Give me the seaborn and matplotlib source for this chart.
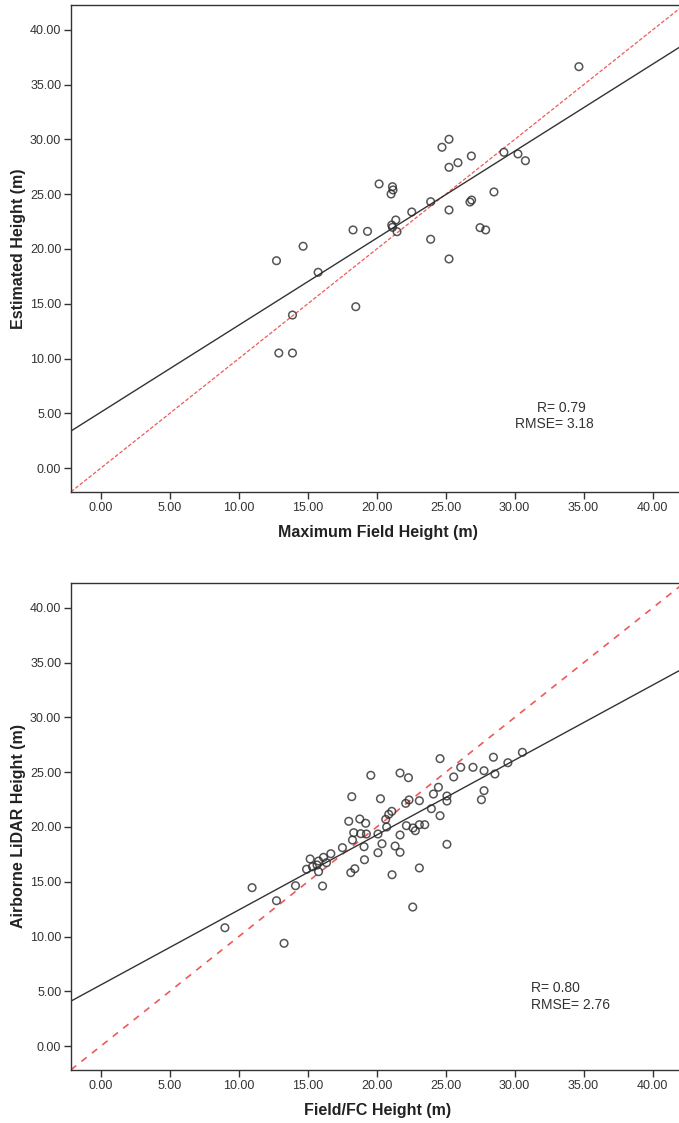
import matplotlib
matplotlib.use("Agg")
import matplotlib.pyplot as plt
import numpy as np
import pandas as pd
import seaborn as sns

# ---- data -------------------------------------------------------------
# Panel 1: maximum field height vs. estimated height (m)
field_max = [34.66, 25.24, 24.73, 26.86, 25.89, 25.24, 29.22, 30.24, 30.78,
             28.50, 26.88, 26.76, 23.91, 22.54, 25.24, 27.49, 27.90, 23.91,
             25.24, 20.17, 21.14, 21.18, 21.04, 18.28, 19.33, 21.38, 21.09,
             21.14, 21.47, 14.66, 12.73, 15.75, 18.48, 13.89, 12.90, 13.89]
estimated = [36.65, 30.02, 29.29, 28.49, 27.88, 27.46, 28.83, 28.68, 28.06,
             25.21, 24.47, 24.29, 24.32, 23.38, 23.56, 21.95, 21.74, 20.89,
             19.09, 25.94, 25.69, 25.39, 25.02, 21.74, 21.61, 22.65, 22.19,
             21.98, 21.58, 20.25, 18.93, 17.87, 14.73, 13.97, 10.50, 10.50]

# Panel 2: field/FC height vs. airborne LiDAR height (m)
field_fc = [24.59, 26.09, 25.58, 19.57, 21.69, 22.30, 18.19, 20.27, 22.34,
            22.10, 23.09, 24.47, 24.11, 25.09, 25.09, 23.96, 24.59, 21.09,
            20.87, 20.65, 17.97, 18.77, 19.20, 20.72, 22.15, 22.63, 22.80,
            23.09, 23.48, 20.09, 18.33, 18.84, 19.25, 21.69, 18.24, 19.08,
            17.51, 20.38, 21.33, 25.09, 16.67, 16.14, 15.78, 15.17, 16.36,
            15.67, 15.34, 14.91, 15.78, 19.11, 20.09, 21.69, 18.41, 18.12,
            21.11, 23.09, 14.11, 16.07, 22.61, 10.96, 12.73, 8.99, 13.28,
            30.56, 28.46, 29.51, 26.98, 27.78, 28.57, 27.78, 27.59]
lidar = [26.24, 25.45, 24.57, 24.72, 24.93, 24.50, 22.77, 22.58, 22.47,
         22.16, 22.40, 23.63, 23.01, 22.83, 22.37, 21.67, 21.03, 21.43,
         21.16, 20.70, 20.52, 20.73, 20.34, 20.00, 20.12, 19.91, 19.66,
         20.21, 20.21, 19.36, 19.48, 19.39, 19.36, 19.27, 18.81, 18.20,
         18.11, 18.47, 18.26, 18.42, 17.56, 17.23, 16.89, 17.08, 16.74,
         16.53, 16.37, 16.14, 15.92, 17.01, 17.65, 17.69, 16.19, 15.83,
         15.64, 16.26, 14.64, 14.61, 12.69, 14.46, 13.27, 10.80, 9.38,
         26.82, 26.37, 25.87, 25.45, 25.14, 24.84, 23.32, 22.49]

tick_values = [0, 5, 10, 15, 20, 25, 30, 35, 40]
tick_labels = [f"{t:.2f}" for t in tick_values]

panels = [
    dict(x=field_max, y=estimated,
         xlabel="Maximum Field Height (m)", ylabel="Estimated Height (m)",
         stats=["R= 0.79", "RMSE= 3.18"],
         stat_pos=[(31.6, 5.5), (30.0, 4.0)],
         dash=(3, 1.5), dash_lw=0.9),
    dict(x=field_fc, y=lidar,
         xlabel="Field/FC Height (m)", ylabel="Airborne LiDAR Height (m)",
         stats=["R= 0.80", "RMSE= 2.76"],
         stat_pos=[(31.2, 5.3), (31.2, 3.75)],
         dash=(4, 4), dash_lw=1.2),
]

# ---- style ------------------------------------------------------------
sns.set_style("ticks")
plt.rcParams["font.family"] = ["Liberation Sans", "DejaVu Sans"]

W, H = 679, 1123
fig = plt.figure(figsize=(W / 100, H / 100), dpi=100)

xlim = (-2.17, 42.28)
ylim = (-2.19, 42.28)
axes_boxes = [(71, 5, 684, 492), (71, 583, 684, 1070)]  # left, top, right, bottom (px)

for box, p in zip(axes_boxes, panels):
    l, t, r, b = box
    ax = fig.add_axes([l / W, 1 - b / H, (r - l) / W, (b - t) / H])
    ax.set_xlim(*xlim)
    ax.set_ylim(*ylim)

    df = pd.DataFrame({"x": p["x"], "y": p["y"]})

    # 1:1 reference line
    ax.plot(xlim, xlim, color="#ee5a5a", lw=p["dash_lw"],
            dashes=p["dash"], zorder=2)

    # scatter + least-squares fit line across the whole axis
    sns.regplot(data=df, x="x", y="y", ax=ax, ci=None, truncate=False,
                scatter_kws=dict(s=30, facecolors="none",
                                 edgecolors="#2b2b2b", linewidths=1.1,
                                 zorder=3),
                line_kws=dict(color="#333333", lw=1.0, zorder=2))

    ax.set_xlim(*xlim)
    ax.set_ylim(*ylim)
    ax.set_xticks(tick_values)
    ax.set_xticklabels(tick_labels)
    ax.set_yticks(tick_values)
    ax.set_yticklabels(tick_labels)
    ax.tick_params(direction="out", length=5, width=1, color="#333333",
                   labelsize=9, labelcolor="#333333", pad=2)

    for s in ax.spines.values():
        s.set_visible(True)
        s.set_linewidth(1.0)
        s.set_color("#333333")

    ax.set_xlabel(p["xlabel"], fontsize=11.5, fontweight="bold",
                  color="#222222", labelpad=8)
    ax.set_ylabel(p["ylabel"], fontsize=11.5, fontweight="bold",
                  color="#222222", labelpad=3)

    for txt, (tx, ty) in zip(p["stats"], p["stat_pos"]):
        ax.text(tx, ty, txt, fontsize=10, color="#333333",
                ha="left", va="center")

fig.savefig("out.png", dpi=100)
